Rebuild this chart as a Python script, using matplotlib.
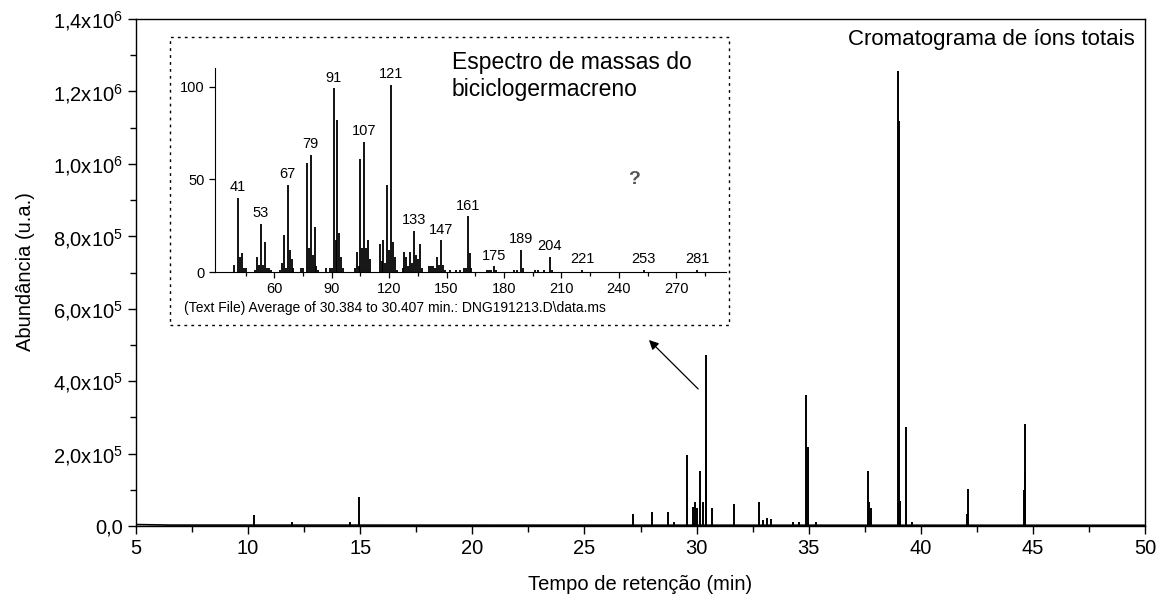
import numpy as np
import matplotlib.pyplot as plt
from matplotlib.patches import Rectangle

plt.rcParams['font.family'] = ['Liberation Sans', 'DejaVu Sans']
plt.rcParams['mathtext.fontset'] = 'custom'
plt.rcParams['mathtext.rm'] = 'Liberation Sans'
plt.rcParams['mathtext.default'] = 'regular'

# Chromatogram peaks (retention time [min], abundance) ##########
peak_rt = [10.26, 11.97, 14.55, 14.95, 20.2,
           27.15, 28.01, 28.71, 29.0, 29.59, 29.83, 29.92, 30.0, 30.14,
           30.28, 30.41, 30.44, 30.68, 31.69, 32.80, 32.98, 33.16, 33.31,
           34.3, 34.57, 34.90, 34.99, 35.33, 37.63, 37.69, 37.80,
           39.0, 39.02, 39.08, 39.34, 39.63, 42.05, 42.09, 44.62, 44.65, 44.67]
peak_abund = [3.0e4, 1.2e4, 1.2e4, 8.1e4, 3e3,
              3.2e4, 4.0e4, 3.8e4, 1.2e4, 1.96e5, 5.3e4, 6.7e4, 5.0e4, 1.53e5,
              6.7e4, 4.72e5, 2.4e5, 5.0e4, 6.0e4, 6.5e4, 1.6e4, 2.3e4, 1.8e4,
              1.0e4, 1.0e4, 3.62e5, 2.19e5, 1.2e4, 1.52e5, 6.7e4, 5.0e4,
              1.257e6, 1.117e6, 7.0e4, 2.74e5, 1.0e4, 3.4e4, 1.01e5, 1.0e5, 2.81e5, 1.5e5]
baseline_t = [5.0, 6.5, 50.0]
baseline_y = [4e3, 2.5e3, 2e3]

# Mass spectrum of biciclogermacreno (m/z, relative intensity) ##
ms_mz = [39, 41, 42, 43, 44, 45, 50, 51, 52, 53, 54, 55, 56, 57, 58,
         63, 64, 65, 66, 67, 68, 69, 70, 74, 75, 77, 78, 79, 80, 81, 82, 83,
         87, 89, 90, 91, 92, 93, 94, 95, 96, 102, 103, 104, 105, 106, 107, 108, 109, 110,
         115, 116, 117, 118, 119, 120, 121, 122, 123, 124,
         127, 128, 129, 130, 131, 132, 133, 134, 135, 136, 137,
         141, 142, 143, 144, 145, 146, 147, 148, 149, 152, 155, 157, 159, 160, 161, 162, 163,
         171, 172, 173, 175, 176, 185, 187, 189, 190, 196, 198, 201, 204, 205, 221, 253, 281]
ms_int = [4, 40, 8, 10, 2, 2, 1, 8, 4, 26, 4, 16, 2, 2, 1,
          1, 5, 20, 2, 47, 12, 7, 2, 2, 2, 59, 13, 63, 9, 24, 3, 1,
          2, 2, 2, 99, 17, 82, 21, 8, 2, 2, 11, 3, 61, 13, 70, 13, 17, 7,
          15, 6, 17, 5, 47, 12, 101, 16, 8, 1,
          2, 11, 8, 3, 11, 5, 22, 9, 7, 15, 2,
          3, 3, 3, 2, 8, 4, 17, 4, 1, 1, 1, 1, 2, 2, 30, 10, 2,
          1, 1, 1, 3, 1, 1, 1, 12, 2, 1, 1, 1, 8, 1, 1, 1, 1]
ms_labels = [41, 53, 67, 79, 91, 107, 121, 133, 147, 161, 175, 189, 204, 221, 253, 281]

x_ticks = [5, 10, 15, 20, 25, 30, 35, 40, 45, 50]
y_ticks = [0, 2e5, 4e5, 6e5, 8e5, 1.0e6, 1.2e6, 1.4e6]
y_ticklabels = ['0,0', r'2,0x10$^5$', r'4,0x10$^5$', r'6,0x10$^5$', r'8,0x10$^5$',
                r'1,0x10$^6$', r'1,2x10$^6$', r'1,4x10$^6$']

W, H = 1166, 607
fig = plt.figure(figsize=(W / 100, H / 100), dpi=100)

# Main chromatogram ############################
ax = fig.add_axes([136 / W, 1 - 526 / H, (1145 - 136) / W, (526 - 19) / H])
ax.plot(baseline_t, baseline_y, color='black', lw=1.2)
ax.vlines(peak_rt, 0, peak_abund, color='black', lw=1.4)
ax.set_xlim(5, 50)
ax.set_ylim(0, 1.4e6)
ax.set_xticks(x_ticks)
ax.set_xticks(np.arange(7.5, 50, 5), minor=True)
ax.set_yticks(y_ticks)
ax.set_yticklabels(y_ticklabels)
ax.set_yticks(np.arange(1e5, 1.4e6, 2e5), minor=True)
ax.tick_params(which='both', direction='out', labelsize=14.5, width=1.0, color='black')
ax.tick_params(which='major', length=6)
ax.tick_params(which='minor', length=4)
for s in ax.spines.values():
    s.set_linewidth(1.0)
ax.text(0.99, 0.959, 'Cromatograma de íons totais', transform=ax.transAxes,
        ha='right', va='center', fontsize=16)
fig.text(26 / W, 1 - 272 / H, 'Abundância (u.a.)', rotation=90, ha='center',
         va='center', fontsize=14.5)
fig.text(640 / W, 1 - 585 / H, 'Tempo de retenção (min)', ha='center',
         va='center', fontsize=14.5)

ax.annotate('', xy=(27.79, 5.19e5), xytext=(30.16, 3.73e5),
            arrowprops=dict(arrowstyle='-|>', color='black', lw=0.9,
                            mutation_scale=14))

# Inset box and mass spectrum ##################
fig.patches.append(Rectangle((170 / W, 1 - 325 / H), (729 - 170) / W, (325 - 37) / H,
                             transform=fig.transFigure, fill=False, ec='black',
                             lw=1.0, ls=(0, (2, 3))))

ins = fig.add_axes([215 / W, 1 - 272 / H, (726 - 215) / W, (272 - 68) / H])
ins.vlines(ms_mz, 0, ms_int, color='black', lw=1.3)
ins.set_xlim(29, 296)
ins.set_ylim(0, 110)
ins.set_xticks(np.arange(60, 271, 30))
ins.set_xticks(np.arange(45, 296, 15), minor=True)
ins.set_yticks([0, 50, 100])
ins.tick_params(which='both', direction='out', labelsize=10.5, width=0.9)
ins.tick_params(which='major', length=4)
ins.tick_params(which='minor', length=3)
ins.spines['top'].set_visible(False)
ins.spines['right'].set_visible(False)
ins.patch.set_alpha(0)
for m in ms_labels:
    ins.text(m, ms_int[ms_mz.index(m)] + 2, str(m), ha='center', va='bottom', fontsize=10.5)
ins.text(248, 50, '?', ha='center', va='center', fontsize=14, color='#555555',
         fontweight='bold')
fig.text(452 / W, 1 - 76 / H, 'Espectro de massas do\nbiciclogermacreno', ha='left',
         va='center', fontsize=16.5, linespacing=1.2)
fig.text(184 / W, 1 - 308 / H,
         '(Text File) Average of 30.384 to 30.407 min.: DNG191213.D\\data.ms',
         ha='left', va='center', fontsize=10)

fig.savefig('out.png', dpi=100)
